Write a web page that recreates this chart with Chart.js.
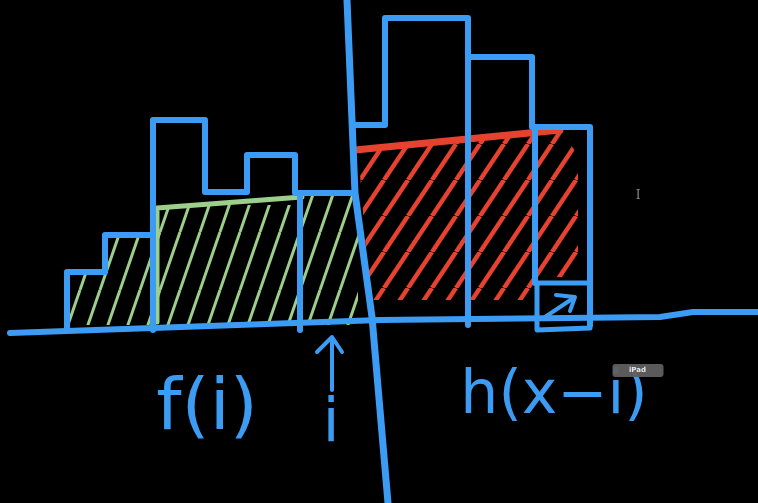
<!DOCTYPE html>
<html>
<head>
<meta charset="utf-8">
<script src="https://cdn.jsdelivr.net/npm/chart.js@4.4.0/dist/chart.umd.min.js"></script>
<style>
  html, body { margin: 0; padding: 0; background: #000; }
  #sketch { display: block; }
</style>
</head>
<body>
<canvas id="sketch" width="758" height="503"></canvas>
<script>
// histogram left of the split line (x units, heights above the axis)
var leftEdges = [6.7, 10.5, 15.3, 20.5, 24.7, 29.5, 35.5];
var leftHeights = [5.3, 9.0, 20.5, 13.3, 17.0, 13.2];
var leftDividerX = [15.3, 30.0];
var leftDividerTop = [9.0, 13.2];
var leftBase = -0.5;

// histogram right of the split line
var rightEdges = [35.5, 38.5, 46.8, 53.2, 59.0];
var rightHeights = [20.0, 30.7, 26.8, 19.8];
var rightDividerX = [46.8, 53.5];
var rightDividerBottom = [0.0, 4.2];
var rightDividerTop = [26.8, 19.8];

// green shaded part f(i)
var greenEdges = [6.9, 10.5, 15.6, 30.2, 35.8];
var greenHeights = [5.1, 8.8, 12.0, 13.0];
var greenCapX = [15.7, 15.7, 30.2];
var greenCapY = [0.3, 11.7, 12.8];

// red shaded part h(x-i)
var redCapX = [35.5, 56.0];
var redCapY = [17.5, 19.5];
var redAreaX = [35.8, 56.0, 57.8, 57.8, 53.6, 53.6, 37.0];
var redAreaY = [17.5, 19.5, 17.0, 4.8, 4.8, 2.5, 2.5];

// axis, split line, small box + arrows
var axisX = [1.0, 38.0, 66.0, 69.3, 75.8];
var axisY = [-0.8, 0.5, 0.8, 1.3, 1.3];
var splitX = [34.7, 35.5, 37.2, 38.8];
var splitY = [32.5, 13.2, 0.8, -17.8];
var boxX = [53.7, 59.0, 59.0, 53.7, 53.7];
var boxY = [4.2, 4.2, -0.3, -0.5, 4.2];
var boxArrowX = [54.5, 57.5, null, 55.6, 57.5, 57.0];
var boxArrowY = [0.8, 2.8, null, 3.0, 2.8, 1.4];
var upArrowX = [33.2, 33.2, null, 31.7, 33.2, 34.2];
var upArrowY = [-6.5, -1.2, null, -2.7, -1.2, -2.7];

var BLUE = '#3c9cf4';
var GREEN = '#9ccf8c';
var RED = '#e5422f';

function points(xs, ys) {
  return xs.map(function(x, i) { return { x: x, y: ys[i] }; });
}

// outline of a histogram, stepping along the bin tops
function outline(edges, heights, base, closeLeft, closeRight) {
  var pts = [];
  if (closeLeft) pts.push({ x: edges[0], y: base });
  for (var i = 0; i < heights.length; i++) {
    pts.push({ x: edges[i], y: heights[i] });
    pts.push({ x: edges[i + 1], y: heights[i] });
  }
  if (closeRight) pts.push({ x: edges[edges.length - 1], y: base });
  return pts;
}

function stroke(data, color, width) {
  return {
    data: data,
    showLine: true,
    spanGaps: false,
    borderColor: color,
    borderWidth: width,
    borderCapStyle: 'round',
    borderJoinStyle: 'round',
    pointRadius: 0,
    fill: false,
    order: 1
  };
}

function hatch(color, w, h, lw) {
  var c = document.createElement('canvas');
  c.width = w;
  c.height = h;
  var g = c.getContext('2d');
  g.strokeStyle = color;
  g.lineWidth = lw;
  [-w, 0, w].forEach(function(dx) {
    g.beginPath();
    g.moveTo(dx, h);
    g.lineTo(dx + w, 0);
    g.stroke();
  });
  return g.createPattern(c, 'repeat');
}

var datasets = [];

// shaded areas, drawn underneath
datasets.push({
  data: outline(greenEdges, greenHeights, 0, true, true),
  showLine: true, borderWidth: 0, pointRadius: 0,
  backgroundColor: hatch(GREEN, 20, 58, 3),
  fill: 'origin', order: 3
});
datasets.push({
  data: points(redAreaX, redAreaY),
  showLine: true, borderWidth: 0, pointRadius: 0,
  backgroundColor: hatch(RED, 24, 36, 4.5),
  fill: 'shape', order: 3
});

// the blue sketch
datasets.push(stroke(outline(leftEdges, leftHeights, leftBase, true, false), BLUE, 6));
datasets.push(stroke(outline(rightEdges, rightHeights, 0, false, true), BLUE, 6));
leftDividerX.forEach(function(x, i) {
  datasets.push(stroke(points([x, x], [leftBase, leftDividerTop[i]]), BLUE, 6));
});
rightDividerX.forEach(function(x, i) {
  datasets.push(stroke(points([x, x], [rightDividerBottom[i], rightDividerTop[i]]), BLUE, 6));
});
datasets.push(stroke(points(axisX, axisY), BLUE, 6));
datasets.push(stroke(points(splitX, splitY), BLUE, 7));
datasets.push(stroke(points(boxX, boxY), BLUE, 5));
datasets.push(stroke(points(boxArrowX, boxArrowY), BLUE, 4));
datasets.push(stroke(points(upArrowX, upArrowY), BLUE, 4));

// green and red caps
datasets.push(stroke(points(greenCapX, greenCapY), GREEN, 5));
datasets.push(stroke(points(redCapX, redCapY), RED, 7));

var notes = [
  { text: 'f(i)', x: 20.7, y: -8.5, size: 72 },
  { text: 'i', x: 33.1, y: -10.0, size: 60 },
  { text: 'h(x\u2212i)', x: 55.4, y: -7.2, size: 60 }
];

var sketchText = {
  id: 'sketchText',
  afterDatasetsDraw: function(chart) {
    var ctx = chart.ctx;
    var xs = chart.scales.x;
    var ys = chart.scales.y;
    ctx.save();
    ctx.textAlign = 'center';
    ctx.textBaseline = 'middle';
    ctx.fillStyle = BLUE;
    notes.forEach(function(n) {
      ctx.font = n.size + 'px "DejaVu Sans"';
      ctx.fillText(n.text, xs.getPixelForValue(n.x), ys.getPixelForValue(n.y));
    });

    // the little "iPad" badge
    var bx = xs.getPixelForValue(63.75);
    var by = ys.getPixelForValue(-4.5);
    ctx.fillStyle = 'rgba(95,95,95,0.95)';
    ctx.beginPath();
    ctx.roundRect(bx - 25, by - 6, 51, 13, 3);
    ctx.fill();
    ctx.fillStyle = '#e8e8e8';
    ctx.font = 'bold 7px "DejaVu Sans"';
    ctx.fillText('iPad', bx, by + 0.5);

    // text cursor
    ctx.fillStyle = '#8a8a8a';
    ctx.font = '12px "DejaVu Serif"';
    ctx.fillText('I', xs.getPixelForValue(63.8), ys.getPixelForValue(12.9));
    ctx.restore();
  }
};

new Chart(document.getElementById('sketch'), {
  type: 'scatter',
  data: { datasets: datasets },
  options: {
    responsive: false,
    animation: false,
    events: [],
    layout: { padding: 0 },
    plugins: {
      legend: { display: false },
      tooltip: { enabled: false }
    },
    scales: {
      x: { type: 'linear', min: 0, max: 75.8, display: false },
      y: { type: 'linear', min: -17.8, max: 32.5, display: false }
    }
  },
  plugins: [sketchText]
});
</script>
</body>
</html>
